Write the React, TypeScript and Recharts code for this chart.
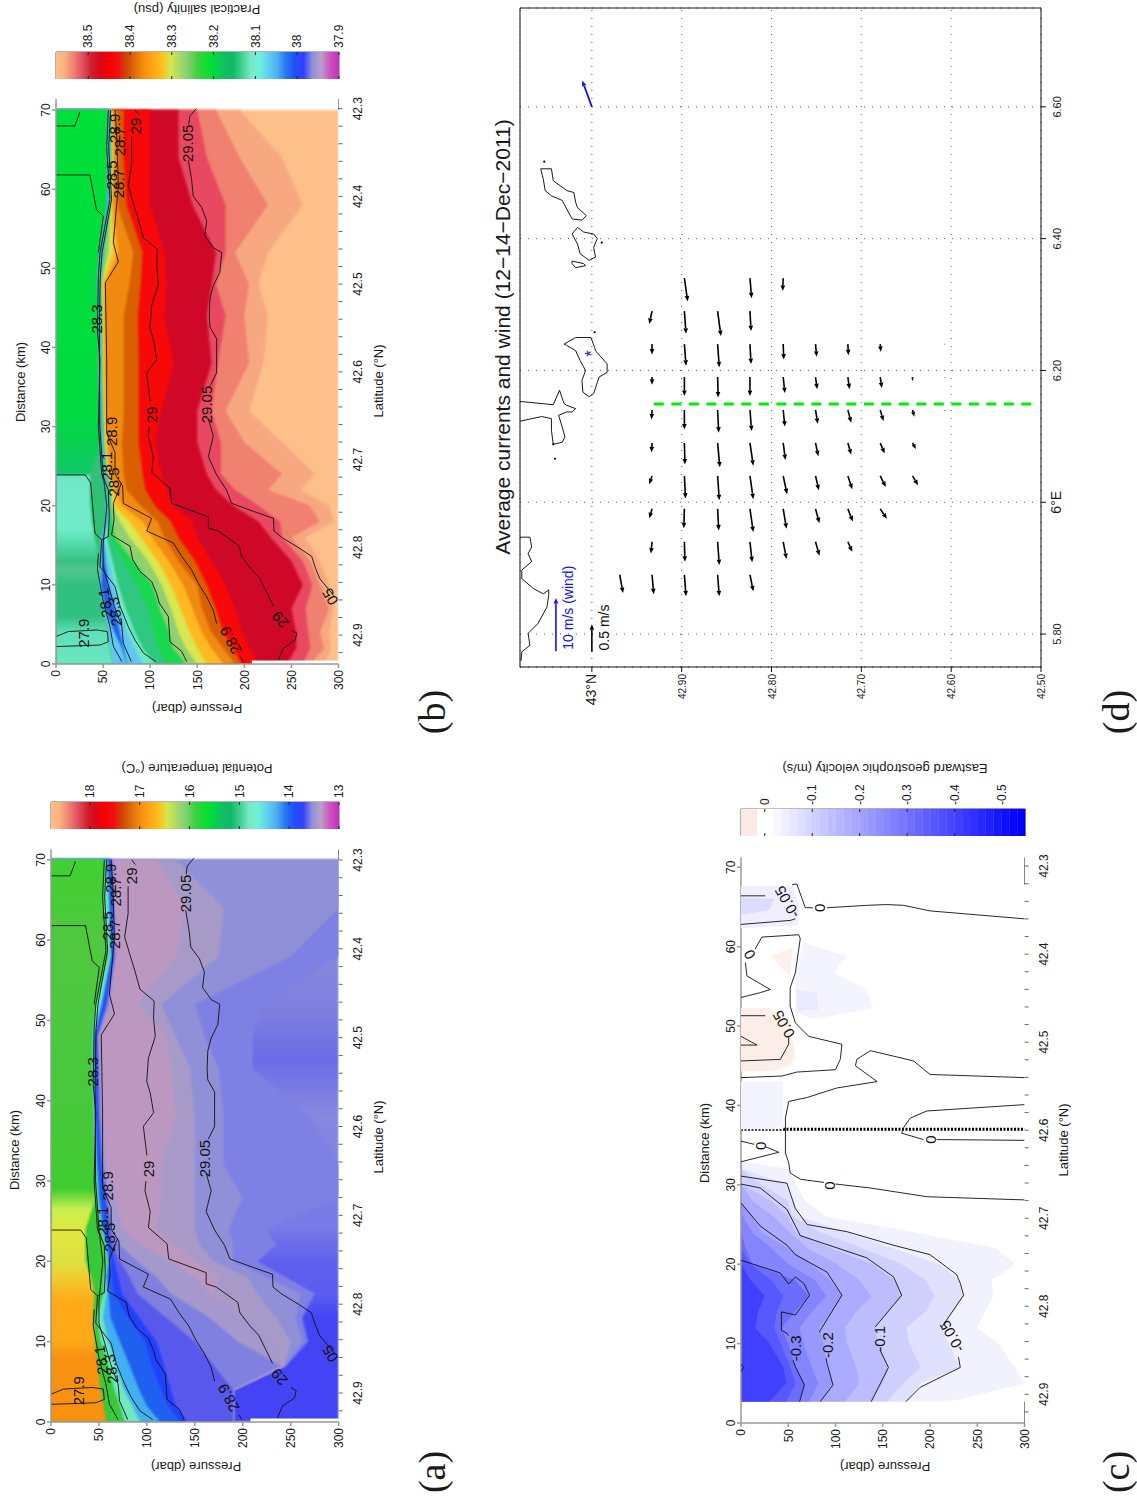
import {
  Area,
  Bar,
  BarChart,
  CartesianGrid,
  ComposedChart,
  ReferenceArea,
  ReferenceLine,
  Scatter,
  XAxis,
  YAxis,
} from 'recharts';

type Pair = [number, number];

const sans = '"Liberation Sans", Arial, sans-serif';
const ink = '#1a1a1a';

// hydrographic stations, km along the section
const stations = [0, 2, 4, 7, 10, 13, 16, 18, 20, 22, 24, 28, 32, 38, 44, 48, 52, 58, 64, 70];

// salinity bands: pressure of the bottom of each band at every station
const salTop = [60, 57, 55, 50, 46, 47, 41, 38, 36, 36, 36, 47, 45, 44, 44, 43, 45, 53, 54, 54];
const salDarkGreen = [60, 57, 55, 50, 46, 47, 48, 53, 54, 54, 50, 47, 46, 45, 45, 44, 46, 54, 55, 55];
const salSkyA = [75, 70, 62, 52, 48, 49, 49, 54, 55, 55, 51, 48, 47, 46, 46, 45, 47, 55, 56, 56];
const salBlue = [75, 72, 68, 62, 56, 52, 50, 54.5, 55.5, 55.5, 51.5, 48.5, 47.5, 46.5, 46.5, 45.5, 48, 55.5, 56.5, 56.5];
const salSkyB = [92, 84, 76, 68, 62, 56, 51, 55, 56, 56, 52, 49, 48, 47, 47, 46, 48.5, 56, 57, 57];
const salTeal = [105, 92, 84, 74, 66, 60, 54, 56, 56.5, 56.5, 52.5, 49.5, 48.5, 47.5, 47.5, 46.5, 49, 56.5, 57.5, 57.5];
const salSeaGreen = [118, 108, 104, 98, 86, 72, 57, 57, 57, 57, 53, 50, 49, 48, 48, 47, 50, 57, 58, 57.8];
const salGreen = [138, 124, 120, 110, 102, 82, 62, 60, 58, 57.5, 53.5, 50.5, 49.5, 48.5, 48.5, 47.5, 51, 57.5, 58.5, 58];
const salLime = [150, 138, 130, 122, 112, 98, 78, 68, 60, 58, 54, 51, 50, 49, 49, 48, 56, 58, 59, 58.5];
const salYellow = [160, 150, 142, 132, 122, 108, 90, 78, 62, 59, 55, 52, 51, 50, 50, 49, 60, 59, 60, 59];
const salAmber = [178, 165, 155, 145, 135, 120, 102, 92, 70, 63, 58, 55, 53, 52, 52, 52, 66, 60, 61, 60];
const salOrange = [190, 178, 165, 155, 150, 130, 115, 108, 90, 75, 72, 70, 72, 72, 72, 78, 82, 65, 66, 65];
const salDarkOrange = [197, 188, 178, 170, 160, 148, 130, 122, 105, 95, 92, 88, 88, 88, 87, 90, 92, 75, 72, 72];
const salRed = [215, 205, 198, 190, 180, 165, 150, 145, 125, 118, 112, 105, 112, 125, 115, 118, 115, 100, 100, 100];
const salCrimson = [245, 255, 255, 250, 262, 250, 228, 215, 188, 170, 160, 150, 150, 165, 160, 165, 170, 145, 130, 130];
const salRose = [262, 270, 268, 265, 272, 262, 240, 238, 215, 190, 175, 175, 165, 172, 180, 170, 180, 180, 160, 150];
const salSalmon = [270, 285, 280, 290, 280, 270, 250, 280, 270, 225, 240, 200, 180, 205, 200, 205, 190, 225, 195, 170];
const salLightSalmon = [285, 292, 290, 295, 290, 280, 265, 295, 290, 260, 275, 240, 205, 220, 225, 215, 225, 262, 240, 195];
const bottomEdge = stations.map(() => 300);

// temperature bands
const tempTop = [58, 55, 52, 49, 46, 44, 45, 42, 36, 36, 36, 47, 45, 43, 42, 42, 45, 58, 54, 56];
const tempGreen = [77, 72, 66, 60, 52, 48, 55, 55, 58, 56, 52, 48, 46, 44, 43, 43, 47, 60, 55, 57];
const tempTeal = [93, 85, 76, 68, 60, 54, 58, 57, 59, 57, 53, 49, 47, 45, 44, 44, 52, 62, 60, 58];
const tempSky = [114, 100, 92, 82, 72, 62, 60, 58, 60, 58, 54, 50, 48, 46, 45, 45, 53, 62.5, 61, 59];
const tempBlue = [135, 122, 115, 105, 98, 80, 66, 64, 63, 60, 58, 54, 50, 48, 47, 46, 56, 64, 63, 61];
const tempDeepBlue = [142, 130, 125, 118, 110, 92, 74, 70, 66, 62, 60, 56, 52, 49, 48, 47, 57, 65, 64, 62];
const tempIndigo = [190, 190, 190, 170, 150, 120, 90, 82, 72, 64, 62, 57, 53, 50, 49, 48, 58, 66, 65, 63];
const tempViolet = [190, 190, 190, 240, 195, 165, 125, 110, 90, 72, 64, 60, 55, 52, 50, 49, 60, 67, 66, 64];
const tempLavender = [190, 190, 190, 242, 235, 210, 165, 150, 125, 95, 75, 66, 58, 54, 52, 52, 62, 68, 67, 65];
const tempPlum = [190, 190, 190, 242, 235, 210, 170, 175, 150, 130, 110, 115, 115, 130, 125, 120, 90, 130, 140, 110];
const tempLavenderB = [190, 190, 190, 243, 250, 235, 215, 205, 170, 155, 150, 150, 150, 150, 145, 130, 115, 175, 180, 130];
const tempMid = [190, 190, 190, 244, 262, 255, 260, 225, 190, 190, 185, 200, 180, 180, 175, 160, 150, 250, 300, 300];
const tempVioletB = [190, 190, 190, 245, 268, 262, 275, 245, 215, 235, 225, 300, 300, 270, 210, 210, 220, 300, 300, 300];

const salBands = [salTop, salDarkGreen, salSkyA, salBlue, salSkyB, salTeal, salSeaGreen, salGreen, salLime, salYellow, salAmber, salOrange, salDarkOrange, salRed, salCrimson, salRose, salSalmon, salLightSalmon, bottomEdge];
const salColors = ['url(#salTopFill)', '#30c078', '#60c8f0', '#2060f0', '#60c8f0', '#70e8c8', '#30c880', '#18d850', '#90d070', '#d8e850', '#ffb820', '#f08a10', '#d86000', '#f80808', '#d00828', '#e84860', '#f08070', '#f8a880', '#fdc08a'];
const tempBands = [tempTop, tempGreen, tempTeal, tempSky, tempBlue, tempDeepBlue, tempIndigo, tempViolet, tempLavender, tempPlum, tempLavenderB, tempMid, tempVioletB, bottomEdge];
const tempColors = ['url(#tempTopFill)', '#38c838', '#70e8c0', '#40b0f0', '#2060f0', '#2040ff', '#5858ec', '#8080e0', '#a498cc', '#bc98c0', '#a89ac8', '#9090d8', '#7f80e4', 'url(#tempDeepFill)'];

// near-surface colour changes along the section
const salTopStops = [0, 4, 6, 10, 12, 13, 15, 17, 23.8, 24, 28, 32, 70];
const salTopColors = ['#68e8c0', '#60e0b8', '#30c080', '#30c080', '#50c890', '#38c080', '#50d8a8', '#70ecc8', '#70e8c8', '#10c868', '#08d050', '#00dc40', '#00e038'];
const tempTopStops = [0, 8, 10, 15, 18, 20, 24, 26.5, 29, 40, 60, 70];
const tempTopColors = ['#f89010', '#f89010', '#ffa818', '#ffaa18', '#f0cc30', '#e0e040', '#e0e840', '#c8f050', '#40cc30', '#48c83c', '#50c840', '#40d030'];
const tempDeepStops = [0, 13, 16, 20, 24, 38, 45, 52, 70];
const tempDeepColors = ['#4444f6', '#4444f6', '#5c5cf0', '#6060ee', '#7878e8', '#8888e0', '#6c6ce8', '#8080e0', '#9896d4'];

// density contours shared by panels a and b: [distance, pressure], split where a label sits
const iso2905a: Pair[] = [[8.5, 296], [10.8, 280], [12.3, 275], [13.6, 271.5], [14.6, 259], [15.9, 241], [16.8, 231.5], [18.4, 231], [19.3, 209.5], [20.3, 186.5], [22, 181], [23.9, 170.6], [26.2, 161.8], [28.8, 167], [30.9, 162]];
const iso2905b: Pair[] = [[35.2, 164], [36.8, 170.6], [40.2, 170.6], [41.1, 170.6], [42.6, 163.5], [44, 162.8], [46.2, 163.5], [47.8, 167], [49.5, 174], [52, 176], [52.6, 167], [54.1, 158], [56, 160], [57.7, 154.7], [59.1, 145.8], [61.2, 144], [63.7, 140.5]];
const iso2905c: Pair[] = [[68.2, 141], [69.2, 142], [70.2, 149]];
const iso2900a: Pair[] = [[0.5, 236], [2, 241.5], [3, 254], [3.9, 255.6], [4.3, 250]];
const iso2900b: Pair[] = [[7.3, 231], [10.8, 216.6], [11.9, 207.8], [13.6, 197], [14.9, 194.7], [16.8, 172.4], [17.2, 161.8], [18.6, 161.8], [20.3, 122.8], [22.2, 121], [24.2, 101.6], [26.2, 103.4], [28.8, 98], [30, 99]];
const iso2900c: Pair[] = [[33.2, 100], [36.8, 96.3], [38.5, 107], [41, 103.4], [42.4, 99.8], [45.3, 101.6], [48, 108.7], [50.3, 107], [52.4, 107.6], [53.9, 92.7], [56.2, 87.4], [58.3, 82], [60.4, 76.8], [63.3, 80.4], [66.7, 80.4]];
const iso2900d: Pair[] = [[69.4, 88], [70, 84]];
const iso2890a: Pair[] = [[0.3, 199], [0.9, 196]];
const iso2890b: Pair[] = [[5.1, 170.6], [6.8, 167], [8.5, 160], [10.2, 151], [11.9, 144], [13.6, 133.5], [15.3, 124.6], [16.8, 96.3], [18.4, 101.6], [20.3, 71.5], [22.5, 70.8], [24, 62.7], [26.7, 62.7], [29.2, 53.8], [32.6, 53.8], [38.5, 53.8], [48.2, 52.4], [50.8, 66.2], [53.3, 60.9], [60.4, 66.2], [67, 64.4], [70, 62.7]];
const iso2880: Pair[] = [[0.3, 138.8], [1.6, 133.5], [2.8, 121], [6, 119.3], [7.7, 109.7], [8.9, 106.9], [10.4, 101.6], [11.7, 89.2], [13.2, 81.4], [14.9, 78.6], [16.3, 59], [18.2, 61.6], [20.3, 60.9], [22.9, 69.7]];
const iso2860: Pair[] = [[0.3, 106], [1.4, 92.7], [3, 84], [4.7, 76.8], [7.3, 68], [9.8, 62.7], [12.3, 46.7], [15.7, 48.5], [16.1, 55.6], [18.6, 56.6], [22, 55.6], [24, 48.5], [30, 45], [38.5, 46.7], [42, 44], [49, 45], [52, 46.7], [58.7, 57.3], [65.4, 53.8], [70, 55.6]];
const iso2840: Pair[] = [[0.3, 80], [2.6, 71.5], [4.7, 70], [7.3, 62], [9.8, 56], [12.3, 50], [15, 50], [20, 54], [24, 50], [30, 46.5], [42, 46], [49, 47], [52, 49], [58.7, 59], [65.4, 56], [70, 58]];
const iso2820: Pair[] = [[0.3, 70], [2.2, 61], [4.7, 57.3], [8, 50], [12, 44], [14, 45]];
const iso2800: Pair[] = [[68, 0.7], [68, 20], [69.8, 25.5]];
const iso2800b: Pair[] = [[61.8, 0.7], [61.8, 36], [57.4, 43], [56.6, 50.3], [52, 45]];
const iso2800c: Pair[] = [[23.9, 0.7], [23.9, 31], [22.9, 36.8], [16.5, 41.4], [15.7, 48.5]];
const iso2790: Pair[] = [[2.2, 0.7], [2.4, 46.7], [2.8, 55.6], [4.1, 54.5], [4.3, 43], [4.1, 13], [3.5, 0.7]];
const densityLines = [iso2905a, iso2905b, iso2905c, iso2900a, iso2900b, iso2900c, iso2900d, iso2890a, iso2890b, iso2880, iso2860, iso2840, iso2820, iso2800, iso2800b, iso2800c, iso2790];

const densityLabelText = ['27.9', '28.9', '29', '05', '29', '29.05', '28.9', '28.1', '28.5', '28.1', '28.3', '28.3', '28.9', '28.7', '28.5', '28.7', '29', '29.05'];
const densityLabelD = [3.9, 3, 5.6, 8.5, 31.5, 32.8, 29.4, 25, 23, 7.7, 6.6, 43.6, 67.7, 66, 61.8, 60.7, 68, 65.8];
const densityLabelP = [29, 185, 238, 291, 101.6, 160, 59, 54, 61, 52, 62.6, 43, 62, 67, 59, 66, 84, 140];
const densityLabelAngle = [0, -28, -40, -30, 0, 0, 0, 0, 0, -8, -8, 0, 0, 0, 0, 0, 0, 0];

// geostrophic velocity: bottom of each band, stations along the section
const velStations = [2.7, 5, 7, 10, 12, 14, 16, 18, 20, 22, 24, 26, 28, 30, 32, 33];
const vel40 = [30, 48, 45, 30, 15, 18, 25, 10, 0, 0, 0, 0, 0, 0, 0, 0];
const vel35 = [48, 58, 52, 42, 35, 38, 45, 32, 10, 0, 0, 0, 0, 0, 0, 0];
const vel30 = [62, 67, 58, 50, 43, 57, 72, 57, 12, 5, 0, 0, 0, 0, 0, 0];
const vel25 = [72, 82, 75, 66, 62, 75, 90, 78, 50, 32, 12, 2, 0, 0, 0, 0];
const vel20 = [84, 97, 91, 87, 83, 95, 107, 94, 74, 50, 22, 11, 0, 0, 0, 0];
const vel15 = [110, 125, 122, 112, 110, 122, 138, 125, 102, 70, 52, 34, 12, 0, 0, 0];
const vel10 = [138, 150, 156, 145, 142, 155, 170, 162, 140, 95, 58, 50, 32, 1, 0, 0];
const vel075 = [155, 172, 190, 178, 175, 195, 205, 195, 170, 128, 85, 54, 50, 22, 0, 0];
const vel05 = [175, 190, 232, 220, 212, 225, 235, 230, 210, 161, 112, 62, 54, 48, 2, 0];
const vel025 = [221, 300, 290, 272, 250, 258, 267, 265, 290, 270, 185, 90, 68, 58, 50, 0];
const velBands = [vel40, vel35, vel30, vel25, vel20, vel15, vel10, vel075, vel05, vel025];
const velColors = ['#4040ff', '#5858ff', '#6c6cff', '#8484ff', '#9898ff', '#aaaaff', '#bcbcff', '#d0d0ff', '#e0e0ff', '#f2f2ff'];

// weak patches of the velocity field
const pinkPatch: Pair[] = [[52.3, 0], [52.3, 30], [50.5, 52], [48, 55], [46, 58], [45, 50], [44.3, 35], [44.3, 0]];
const pinkSliver: Pair[] = [[59.9, 55], [56.2, 52], [58.8, 31]];
const paleBlueA: Pair[] = [[60.5, 66], [58.8, 112], [56.7, 98], [54.6, 133], [52.3, 140], [50.8, 77], [51.7, 57.5], [56.3, 57.5]];
const paleBlueB: Pair[] = [[54.6, 59], [54.2, 80], [52.1, 82], [51.9, 59]];
const eastBlue: Pair[] = [[67.6, 0], [67.6, 55], [65, 62], [62.7, 60], [62.3, 0]];
const eastBlueCore: Pair[] = [[66.2, 0], [66, 35], [64.6, 30], [64, 0]];
const midBlue: Pair[] = [[43, 0], [43, 44], [37, 45], [37, 0]];
const velPatches = [midBlue, pinkPatch, pinkSliver, paleBlueA, paleBlueB, eastBlue, eastBlueCore];
const velPatchColors = ['#f4f4ff', '#fdeeea', '#fdf1ee', '#f4f4ff', '#eaeaff', '#eeeeff', '#dcdcff'];

// velocity contours, split where a label sits
const velM30a: Pair[] = [[2.7, 62], [4.8, 67], [7.1, 57.5], [7.9, 55]];
const velM30b: Pair[] = [[11, 50], [11.3, 48.6], [11.7, 42.7], [14, 42.7], [13.6, 57.5], [16.1, 72.6], [17.6, 66.3], [18.4, 57.5], [17.5, 50.4], [18.9, 41.6], [20.5, 0]];
const velM30c: Pair[] = [[7.4, 0], [7, 2.8], [6.5, 0]];
const velM20a: Pair[] = [[2.7, 83.9], [4.8, 97.3], [7.5, 91], [8.2, 90]];
const velM20b: Pair[] = [[11.4, 83.5], [11.5, 83], [16.1, 106.8], [19, 91], [21.2, 57.5], [22.4, 48.6], [24.8, 20.4], [27.7, 0]];
const velM10a: Pair[] = [[2.7, 137.8], [7, 156], [9.2, 147]];
const velM10b: Pair[] = [[12.1, 142], [16.1, 170], [18.4, 161.4], [20.8, 133], [23.6, 62.7], [26.9, 48.6], [29.6, 20.4], [30.1, 0]];
const velM05a: Pair[] = [[2.7, 174.5], [4.5, 189.6], [7, 232], [8.3, 230]];
const velM05d: Pair[] = [[12.1, 212.5], [16.1, 235.5], [17.6, 232], [18.7, 228], [21.2, 200], [22.4, 161], [24.1, 112], [25, 70], [27, 57.5], [30.2, 48.6], [31.1, 0]];
const velM05b: Pair[] = [[62.8, 0], [63.3, 52], [63.5, 57.5]];
const velM05c: Pair[] = [[66.4, 0], [66.4, 25.7]];
const velZeroA1: Pair[] = [[63.5, 300], [64.5, 200], [65.2, 172], [65.3, 154], [65.2, 133], [64.9, 91]];
const velZeroA2: Pair[] = [[64.9, 76], [64.9, 68], [67.9, 59], [67.8, 54]];
const velZeroB1: Pair[] = [[53.6, 0], [54.2, 20.4], [54.6, 31], [56.3, 6.3], [58, 4.6]];
const velZeroB2: Pair[] = [[59.7, 15], [61.2, 22], [61.5, 61], [61, 62.7], [56.7, 57.5], [54.8, 52], [52.5, 52], [50.4, 57.5], [48.7, 71.6], [47.7, 106.8], [45.8, 105], [44.5, 100], [44.2, 59], [43.7, 43.4], [43.5, 0]];
const velPosA: Pair[] = [[51.3, 0], [51.3, 25.7]];
const velPosB: Pair[] = [[45.6, 0], [45.8, 41.6], [47.7, 50.4], [48.6, 50.4]];
const velPosC: Pair[] = [[48.7, 0], [47.6, 17], [47.6, 0]];
const velZeroC1: Pair[] = [[43.5, 300], [43.9, 200], [45.6, 182.6], [46.9, 136.8], [45.8, 122.6], [45, 121], [43, 144], [42.2, 101.5], [41, 70], [40.5, 50.4], [38.4, 47], [34, 47], [32.8, 50.4], [31.5, 52], [30.7, 62.7], [30.3, 88]];
const velZeroC2: Pair[] = [[30.1, 100], [29.6, 136.8], [28.5, 196.7], [28.1, 300]];
const velZeroD1: Pair[] = [[35.5, 0], [35.1, 14]];
const velZeroD2: Pair[] = [[34.8, 26], [34.1, 40], [32.9, 0]];
const velZeroE1: Pair[] = [[35.6, 300], [35.7, 207]];
const velZeroE2: Pair[] = [[35.7, 193], [36.5, 170], [37.2, 172], [38.4, 179], [39.3, 196.7], [40.1, 300]];
const velLines = [velM30a, velM30b, velM30c, velM20a, velM20b, velM10a, velM10b, velM05a, velM05d, velM05b, velM05c, velZeroA1, velZeroA2, velZeroB1, velZeroB2, velPosA, velPosB, velPosC, velZeroC1, velZeroC2, velZeroD1, velZeroD2, velZeroE1, velZeroE2];

const velLabelText = ['-0.3', '-0.2', '-0.1', '-0.05', '0', '0', '0', '0', '0', '-0.05', '0.05'];
const velLabelD = [9.4, 9.8, 10.6, 10.9, 29.9, 35.7, 34.9, 64.9, 59, 65.6, 50.2];
const velLabelP = [57.5, 91, 147, 223, 93.8, 200, 20.4, 83, 9, 48.6, 45];
const velLabelAngle = [0, 0, 0, -30, 0, 0, 0, 0, -30, -30, -30];

const pressureTicks = [0, 50, 100, 150, 200, 250, 300];
const distanceTicks = [0, 10, 20, 30, 40, 50, 60, 70];
const latTicks = [42.3, 42.32, 42.34, 42.36, 42.38, 42.4, 42.42, 42.44, 42.46, 42.48, 42.5, 42.52, 42.54, 42.56, 42.58, 42.6, 42.62, 42.64, 42.66, 42.68, 42.7, 42.72, 42.74, 42.76, 42.78, 42.8, 42.82, 42.84, 42.86, 42.88, 42.9, 42.92];

// colour bars, listed from the low end to the high end
const rainbow = ['#c030c0', '#d050c0', '#b8a0c8', '#9090d8', '#3040ff', '#2050f8', '#2878f0', '#50b0f0', '#60d0f0', '#70f0d8', '#78e8c0', '#40d090', '#10b868', '#10c060', '#00d840', '#10e030', '#40d040', '#80d070', '#a8d868', '#d0e850', '#ffc020', '#ffa818', '#f89010', '#e07008', '#d04808', '#f01010', '#f80000', '#d80818', '#d02030', '#e05060', '#f08070', '#fab080', '#fdc08a'];
const velPalette = ['#0000ff', '#0707ff', '#0f0fff', '#1717ff', '#1f1fff', '#2727ff', '#2f2fff', '#3737ff', '#3f3fff', '#4747ff', '#4f4fff', '#5757ff', '#5f5fff', '#6767ff', '#6f6fff', '#7777ff', '#7f7fff', '#8787ff', '#8f8fff', '#9797ff', '#9f9fff', '#a7a7ff', '#afafff', '#b7b7ff', '#bfbfff', '#c7c7ff', '#cfcfff', '#d7d7ff', '#dfdfff', '#e7e7ff', '#efefff', '#f7f7ff', '#ffffff', '#ffffff', '#fdeae6', '#fdeae6'];
const salTicks = [37.9, 38, 38.1, 38.2, 38.3, 38.4, 38.5];
const tempTicks = [13, 14, 15, 16, 17, 18];
const velTicks = [-0.5, -0.4, -0.3, -0.2, -0.1, 0];

// map: current vectors, one line per longitude column
const arrowLon = [
  5.89, 5.89, 5.89, 5.89, 5.89,
  5.94, 5.94, 5.94, 5.94, 5.94, 5.94, 5.94,
  5.99, 5.99, 5.99, 5.99, 5.99, 5.99, 5.99, 5.99,
  6.04, 6.04, 6.04, 6.04, 6.04, 6.04, 6.04, 6.04, 6.04,
  6.09, 6.09, 6.09, 6.09, 6.09, 6.09, 6.09, 6.09, 6.09,
  6.14, 6.14, 6.14, 6.14, 6.14, 6.14, 6.14, 6.14, 6.14, 6.14,
  6.19, 6.19, 6.19, 6.19, 6.19, 6.19, 6.19, 6.19, 6.19, 6.19,
  6.24, 6.24, 6.24, 6.24, 6.24, 6.24, 6.24, 6.24, 6.24,
  6.29, 6.29, 6.29, 6.29,
  6.34, 6.34, 6.34,
];
const arrowLat = [
  42.969, 42.933, 42.897, 42.86, 42.824,
  42.933, 42.897, 42.86, 42.824, 42.787, 42.751, 42.715,
  42.933, 42.897, 42.86, 42.824, 42.787, 42.751, 42.715, 42.679,
  42.933, 42.897, 42.86, 42.824, 42.787, 42.751, 42.715, 42.679, 42.643,
  42.933, 42.897, 42.86, 42.824, 42.787, 42.751, 42.715, 42.679, 42.643,
  42.933, 42.897, 42.86, 42.824, 42.787, 42.751, 42.715, 42.679, 42.643, 42.607,
  42.933, 42.897, 42.86, 42.824, 42.787, 42.751, 42.715, 42.679, 42.643, 42.607,
  42.933, 42.897, 42.86, 42.824, 42.787, 42.751, 42.715, 42.679, 42.607,
  42.933, 42.897, 42.86, 42.824,
  42.897, 42.824, 42.787,
];
const arrowU = [
  -0.33, -0.35, -0.39, -0.39, -0.3,
  -0.21, -0.36, -0.42, -0.37, -0.31, -0.25, -0.18,
  -0.17, -0.35, -0.39, -0.42, -0.36, -0.26, -0.23, -0.18,
  -0.15, -0.41, -0.44, -0.42, -0.33, -0.26, -0.24, -0.2, -0.17,
  -0.17, -0.39, -0.44, -0.41, -0.31, -0.24, -0.21, -0.19, -0.11,
  -0.17, -0.35, -0.41, -0.38, -0.3, -0.25, -0.23, -0.2, -0.12, -0.02,
  -0.14, -0.34, -0.37, -0.34, -0.29, -0.22, -0.22, -0.2, -0.07, -0.01,
  -0.19, -0.39, -0.42, -0.36, -0.28, -0.23, -0.2, -0.14, -0.01,
  -0.23, -0.41, -0.45, -0.36,
  -0.42, -0.36, -0.23,
];
const arrowV = [
  -0.06, -0.03, -0.03, -0.03, -0.06,
  0.02, -0.01, -0.03, -0.04, -0.06, -0.07, -0.08,
  0.05, 0.01, -0.02, -0.06, -0.06, -0.07, -0.09, -0.12,
  0.05, -0.02, -0.03, -0.06, -0.07, -0.06, -0.08, -0.1, -0.1,
  0.01, -0.01, -0.04, -0.06, -0.04, -0.05, -0.06, -0.08, -0.06,
  0.01, 0, -0.02, -0.03, -0.03, -0.04, -0.06, -0.06, -0.03, -0.01,
  0, 0, -0.01, 0, -0.03, -0.03, -0.03, -0.03, 0, 0,
  0, -0.03, -0.03, -0.02, -0.01, -0.02, -0.01, -0.01, 0.01,
  0.05, -0.03, -0.06, -0.02,
  -0.06, -0.03, 0.01,
];

// coastline, [lon, lat]
const levant: Pair[] = [[6.506, 43.057], [6.506, 43.045], [6.488, 43.043], [6.473, 43.028], [6.47, 43.02], [6.455, 43.018], [6.447, 43.016], [6.435, 43.006], [6.428, 43.011], [6.43, 43.022], [6.445, 43.028], [6.458, 43.033], [6.465, 43.045], [6.473, 43.052], [6.49, 43.054], [6.506, 43.057]];
const portCros: Pair[] = [[6.407, 43.022], [6.417, 43.016], [6.41, 43.009], [6.407, 42.998], [6.4, 42.994], [6.387, 42.998], [6.372, 42.996], [6.367, 43.003], [6.377, 43.013], [6.392, 43.016], [6.407, 43.022]];
const bagaud: Pair[] = [[6.366, 43.022], [6.362, 43.009], [6.359, 43.007], [6.356, 43.018], [6.362, 43.022], [6.366, 43.022]];
const porquerolles: Pair[] = [[6.24, 43.031], [6.25, 43.018], [6.25, 43.001], [6.235, 42.997], [6.23, 42.996], [6.21, 42.983], [6.197, 42.983], [6.19, 42.992], [6.165, 42.998], [6.16, 43.003], [6.167, 43.01], [6.185, 43.011], [6.2, 43.007], [6.215, 43.013], [6.23, 43.018], [6.238, 43.028], [6.24, 43.031]];
const giens: Pair[] = [[6.153, 43.08], [6.148, 43.043], [6.17, 43.036], [6.15, 43.031], [6.147, 43.028], [6.142, 43.018], [6.137, 43.022], [6.137, 43.028], [6.132, 43.037], [6.114, 43.033], [6.099, 43.03], [6.091, 43.033], [6.088, 43.043], [6.109, 43.045], [6.127, 43.045], [6.13, 43.056], [6.123, 43.08]];
const sicie: Pair[] = [[5.947, 43.08], [5.947, 43.069], [5.932, 43.067], [5.922, 43.071], [5.91, 43.067], [5.897, 43.078], [5.884, 43.078], [5.869, 43.065], [5.861, 43.054], [5.867, 43.048], [5.859, 43.048], [5.841, 43.05], [5.816, 43.06], [5.801, 43.071], [5.783, 43.069], [5.773, 43.078], [5.759, 43.079]];
const coasts = [levant, portCros, bagaud, porquerolles, giens, sicie];
const isletLon = [6.517, 6.394, 6.258, 6.066, 6.088];
const isletLat = [43.053, 42.989, 42.997, 43.041, 43.043];

const lonTicks = [5.8, 6, 6.2, 6.4, 6.6];
const mapLatTicks = [42.5, 42.6, 42.7, 42.8, 42.9, 43];
const transectLon = [6.149, 6.149];
const transectLat = [42.931, 42.503];

const blockStyle = (left: number, top: number): React.CSSProperties => ({ position: 'absolute', left, top });

const noMark = () => null;

function bandRows(xs: number[], bands: number[][]) {
  return xs.map((d, i) => {
    const row: Record<string, number> = { d };
    bands.forEach((band, b) => {
      row[`b${b}`] = band[i];
    });
    return row;
  });
}

function sectionLine(points: Pair[]) {
  return points.map(([d, p]) => ({ d, p }));
}

function labelMark(props: any) {
  const { cx, cy, payload } = props;
  return (
    <text
      x={cx}
      y={cy}
      textAnchor="middle"
      dominantBaseline="central"
      fontSize={payload.size ?? 15}
      fontFamily={sans}
      fill={payload.color ?? '#111'}
      transform={payload.angle ? `rotate(${payload.angle} ${cx} ${cy})` : undefined}
    >
      {payload.text}
    </text>
  );
}

function Gradient({ id, stops, colors }: { id: string; stops: number[]; colors: string[] }) {
  return (
    <linearGradient id={id} x1="0" y1="0" x2="1" y2="0">
      {stops.map((d, i) => (
        <stop key={d} offset={d / 70} stopColor={colors[i]} />
      ))}
    </linearGradient>
  );
}

interface SectionProps {
  x0: number;
  x1: number;
  y0: number;
  y1: number;
  maxDist: number;
  lat0: number;
  lat1: number;
  xs: number[];
  bands: number[][];
  colors: string[];
  lines: Pair[][];
  labels: { d: number; p: number; text: string; angle: number }[];
  patches?: Pair[][];
  patchColors?: string[];
  axisStubs: Pair[][];
  defs?: React.ReactNode;
  extra?: React.ReactNode;
  soft?: boolean;
}

function SectionPlot({ x0, x1, y0, y1, maxDist, lat0, lat1, xs, bands, colors, lines, labels, patches, patchColors, axisStubs, defs, extra, soft }: SectionProps) {
  const rows = bandRows(xs, bands);
  const yAxisW = 40;
  const xAxisH = 32;
  const paintOrder = bands.map((_, b) => bands.length - 1 - b);
  return (
    <div style={blockStyle(x0 - yAxisW, y0 - xAxisH)}>
      <ComposedChart
        width={x1 - x0 + yAxisW + 10}
        height={y1 - y0 + xAxisH * 2}
        data={rows}
        margin={{ top: 0, right: 10, bottom: 0, left: 0 }}
      >
        <defs>{defs}</defs>
        <XAxis
          xAxisId="dist"
          dataKey="d"
          type="number"
          orientation="top"
          height={xAxisH}
          domain={[0, maxDist]}
          allowDataOverflow
          ticks={distanceTicks}
          interval={0}
          tickSize={4}
          stroke="#999"
          strokeWidth={1.5}
          tick={{ fontSize: 12, fontFamily: sans, fill: ink }}
        />
        <XAxis
          xAxisId="lat"
          dataKey="lat"
          type="number"
          orientation="bottom"
          height={xAxisH}
          reversed
          domain={[lat1, lat0]}
          allowDataOverflow
          ticks={latTicks}
          interval={0}
          tickSize={4}
          tickMargin={11}
          axisLine={false}
          tickFormatter={(v: number) => (Math.round(v * 100) % 10 === 0 ? v.toFixed(1) : '')}
          tick={{ fontSize: 12, fontFamily: sans, fill: ink }}
        />
        <YAxis
          yAxisId="pres"
          dataKey="p"
          type="number"
          width={yAxisW}
          reversed
          domain={[0, 300]}
          allowDataOverflow
          ticks={pressureTicks}
          interval={0}
          tickSize={4}
          stroke="#999"
          strokeWidth={1.5}
          tick={{ fontSize: 12, fontFamily: sans, fill: ink }}
        />
        {paintOrder.map((b) => (
          <Area
            key={b}
            xAxisId="dist"
            yAxisId="pres"
            dataKey={`b${b}`}
            type="linear"
            fill={colors[b]}
            fillOpacity={1}
            stroke="none"
            dot={false}
            activeDot={false}
            style={soft ? { filter: 'blur(1.3px)' } : undefined}
            isAnimationActive={false}
          />
        ))}
        {patches?.map((pts, i) => (
          <Scatter
            key={`patch${i}`}
            xAxisId="dist"
            yAxisId="pres"
            data={sectionLine([...pts, pts[0]])}
            line={{ stroke: 'none', fill: patchColors?.[i] }}
            shape={noMark}
            isAnimationActive={false}
          />
        ))}
        {extra}
        {lines.map((pts, i) => (
          <Scatter
            key={`iso${i}`}
            xAxisId="dist"
            yAxisId="pres"
            data={sectionLine(pts)}
            line={{ stroke: '#111', strokeWidth: 0.9 }}
            shape={noMark}
            isAnimationActive={false}
          />
        ))}
        {axisStubs.map((pts, i) => (
          <Scatter
            key={`stub${i}`}
            xAxisId="dist"
            yAxisId="pres"
            data={sectionLine(pts)}
            line={{ stroke: '#222', strokeWidth: 1 }}
            shape={noMark}
            isAnimationActive={false}
          />
        ))}
        <Scatter xAxisId="dist" yAxisId="pres" data={labels} shape={labelMark} isAnimationActive={false} />
        {/* keeps the latitude axis scaled, draws nothing */}
        <Scatter
          xAxisId="lat"
          yAxisId="pres"
          data={[{ lat: lat0, p: 0 }, { lat: lat1, p: 0 }]}
          shape={noMark}
          isAnimationActive={false}
        />
      </ComposedChart>
    </div>
  );
}

interface ColorBarProps {
  left: number;
  top: number;
  width: number;
  height: number;
  palette: string[];
  min: number;
  max: number;
  ticks: number[];
  id: string;
  smooth?: boolean;
  format?: (v: number) => string;
}

function ColorBar({ left, top, width, height, palette, min, max, ticks, id, smooth, format }: ColorBarProps) {
  const step = (max - min) / palette.length;
  const row: Record<string, number | string> = { name: 'bar', base: min, span: max - min };
  palette.forEach((_, i) => {
    row[`s${i}`] = step;
  });
  return (
    <div style={blockStyle(left, top - 10)}>
      <BarChart
        width={width + 44}
        height={height + 20}
        data={[row]}
        margin={{ top: 10, right: 0, bottom: 10, left: 0 }}
        barCategoryGap={0}
      >
        <defs>
          <linearGradient id={id} x1="0" y1="1" x2="0" y2="0">
            {palette.map((color, i) => (
              <stop key={i} offset={i / (palette.length - 1)} stopColor={color} />
            ))}
          </linearGradient>
        </defs>
        <XAxis dataKey="name" hide />
        <YAxis
          type="number"
          orientation="right"
          width={44}
          domain={[min, max]}
          allowDataOverflow
          ticks={ticks}
          interval={0}
          tickSize={0}
          tickLine={false}
          tickMargin={4}
          axisLine={false}
          tickFormatter={format}
          tick={{ fontSize: 12, fontFamily: sans, fill: ink }}
        />
        <Bar dataKey="base" stackId="c" fill="none" isAnimationActive={false} />
        {smooth ? (
          <Bar dataKey="span" stackId="c" fill={`url(#${id})`} isAnimationActive={false} />
        ) : (
          palette.map((color, i) => (
            <Bar key={i} dataKey={`s${i}`} stackId="c" fill={color} stroke={color} strokeWidth={0.4} isAnimationActive={false} />
          ))
        )}
        {ticks.map((t) => (
          <ReferenceLine key={t} y={t} stroke="#222" strokeDasharray={`3 ${width - 6} 3`} />
        ))}
        <ReferenceArea y1={min} y2={max} fill="none" stroke="#666" strokeWidth={1} />
      </BarChart>
    </div>
  );
}

function arrowMark(scale: number, color: string, weight: number) {
  return function ArrowMark(props: any) {
    const { cx, cy, payload } = props;
    const dx = payload.u * scale;
    const dy = -payload.v * scale;
    const len = Math.hypot(dx, dy);
    if (len === 0) return null;
    const ux = dx / len;
    const uy = dy / len;
    const head = Math.min(5.5, len * 0.7);
    const half = head * 0.42;
    const tipX = cx + dx;
    const tipY = cy + dy;
    const backX = tipX - ux * head;
    const backY = tipY - uy * head;
    return (
      <g>
        <line x1={cx} y1={cy} x2={backX} y2={backY} stroke={color} strokeWidth={weight} />
        <polygon
          points={`${tipX},${tipY} ${backX - uy * half},${backY + ux * half} ${backX + uy * half},${backY - ux * half}`}
          fill={color}
        />
      </g>
    );
  };
}

const currentRows = arrowLon.map((lon, i) => ({ lon, lat: arrowLat[i], u: arrowU[i], v: arrowV[i] }));
const scaleCurrent = [{ lon: 5.773, lat: 43, u: 0.5, v: 0 }];
const scaleWind = [{ lon: 5.774, lat: 43.04, u: 10, v: 0 }];
const windRow = [{ lon: 6.6, lat: 43, u: 4.93, v: 1.8 }];
const mapNotes = [
  { lon: 5.81, lat: 42.987, text: '0.5 m/s', size: 14, color: '#111' },
  { lon: 5.84, lat: 43.027, text: '10 m/s (wind)', size: 14, color: '#1010ff' },
  { lon: 6.226, lat: 43, text: '*', size: 17, color: '#1010ff' },
];

function islet(props: any) {
  return <circle cx={props.cx} cy={props.cy} r={1.1} fill="#000" />;
}

function lonTick(props: any) {
  const { x, y, payload } = props;
  const big = payload.value === 6;
  return (
    <text x={x} y={y + 13} textAnchor="middle" fontSize={big ? 14 : 11} fontFamily={sans} fill={ink}>
      {big ? '6°E' : payload.value.toFixed(2)}
    </text>
  );
}

function latTick(props: any) {
  const { x, y, payload } = props;
  const big = payload.value === 43;
  return (
    <text x={x} y={y + 4} textAnchor="end" fontSize={big ? 14 : 10} fontFamily={sans} fill={ink}>
      {big ? '43°N' : payload.value.toFixed(2)}
    </text>
  );
}

function MapPlot() {
  const x0 = 835.7;
  const x1 = 1494.7;
  const y0 = 520;
  const y1 = 1041;
  const lonDomain = [5.75, 6.75];
  const latDomain = [42.5, 43.08];
  return (
    <div style={blockStyle(x0 - 50, y0 - 10)}>
      <ComposedChart
        width={x1 - x0 + 60}
        height={y1 - y0 + 40}
        margin={{ top: 0, right: 0, bottom: 0, left: 0 }}
      >
        <XAxis
          xAxisId="main"
          dataKey="lon"
          type="number"
          orientation="bottom"
          height={30}
          domain={lonDomain}
          allowDataOverflow
          ticks={lonTicks}
          interval={0}
          tickSize={5}
          stroke="#111"
          tick={lonTick}
        />
        <XAxis
          xAxisId="upper"
          dataKey="lon"
          type="number"
          orientation="top"
          height={10}
          domain={lonDomain}
          allowDataOverflow
          ticks={lonTicks}
          interval={0}
          tickSize={5}
          stroke="#111"
          tick={false}
        />
        <YAxis
          yAxisId="main"
          dataKey="lat"
          type="number"
          width={50}
          domain={latDomain}
          allowDataOverflow
          ticks={mapLatTicks}
          interval={0}
          tickSize={5}
          stroke="#111"
          tick={latTick}
        />
        <YAxis
          yAxisId="side"
          dataKey="lat"
          type="number"
          orientation="right"
          width={10}
          domain={latDomain}
          allowDataOverflow
          ticks={mapLatTicks}
          interval={0}
          tickSize={5}
          stroke="#111"
          tick={false}
        />
        <CartesianGrid
          xAxisId="main"
          yAxisId="main"
          strokeDasharray="1 7"
          stroke="#555"
          strokeWidth={1}
        />
        {coasts.map((pts, i) => (
          <Scatter
            key={i}
            xAxisId="main"
            yAxisId="main"
            data={pts.map(([lon, lat]) => ({ lon, lat }))}
            line={{ stroke: '#000', strokeWidth: 0.9 }}
            shape={noMark}
            isAnimationActive={false}
          />
        ))}
        <Scatter
          xAxisId="main"
          yAxisId="main"
          data={isletLon.map((lon, i) => ({ lon, lat: isletLat[i] }))}
          shape={islet}
          isAnimationActive={false}
        />
        <Scatter
          xAxisId="main"
          yAxisId="main"
          data={transectLon.map((lon, i) => ({ lon, lat: transectLat[i] }))}
          line={{ stroke: '#00ee00', strokeWidth: 3, strokeDasharray: '10 7.5' }}
          shape={noMark}
          isAnimationActive={false}
        />
        <Scatter xAxisId="main" yAxisId="main" data={currentRows} shape={arrowMark(55.4, '#000', 1.6)} isAnimationActive={false} />
        <Scatter xAxisId="main" yAxisId="main" data={scaleCurrent} shape={arrowMark(55.4, '#000', 1.6)} isAnimationActive={false} />
        <Scatter xAxisId="main" yAxisId="main" data={scaleWind} shape={arrowMark(5.33, '#1010ff', 1.6)} isAnimationActive={false} />
        <Scatter xAxisId="main" yAxisId="main" data={windRow} shape={arrowMark(5.33, '#1010ff', 1.8)} isAnimationActive={false} />
        <Scatter xAxisId="main" yAxisId="main" data={mapNotes} shape={labelMark} isAnimationActive={false} />
        {/* keeps the outer ticks scaled, draws nothing */}
        <Scatter
          xAxisId="upper"
          yAxisId="side"
          data={[{ lon: lonDomain[0], lat: latDomain[0] }, { lon: lonDomain[1], lat: latDomain[1] }]}
          shape={noMark}
          isAnimationActive={false}
        />
      </ComposedChart>
    </div>
  );
}

function Caption({ x, y, text, size = 13, angle = 0, serif = false }: { x: number; y: number; text: string; size?: number; angle?: number; serif?: boolean }) {
  return (
    <div
      style={{
        position: 'absolute',
        left: x,
        top: y,
        transform: `translate(-50%, -50%) rotate(${angle}deg)`,
        whiteSpace: 'nowrap',
        fontSize: size,
        lineHeight: 1,
        fontFamily: serif ? '"Liberation Serif", serif' : sans,
        color: ink,
      }}
    >
      {text}
    </div>
  );
}

const densityLabels = densityLabelText.map((text, i) => ({ text, d: densityLabelD[i], p: densityLabelP[i], angle: densityLabelAngle[i] }));
const velLabels = velLabelText.map((text, i) => ({ text, d: velLabelD[i], p: velLabelP[i], angle: velLabelAngle[i] }));

const whiteCorner = <ReferenceArea xAxisId="dist" yAxisId="pres" x1={0} x2={0.45} y1={208} y2={300} fill="#fff" fillOpacity={1} stroke="none" />;

export default function App() {
  return (
    <div
      style={{
        position: 'absolute',
        left: 0,
        top: 0,
        width: 1503,
        height: 1137,
        background: '#fff',
        transformOrigin: '0 0',
        transform: 'translate(0, 1503px) rotate(-90deg)',
      }}
    >
      <SectionPlot
        x0={81.3}
        x1={654}
        y0={51}
        y1={338.7}
        maxDist={71.3}
        lat0={42.9326}
        lat1={42.288}
        xs={stations}
        bands={tempBands}
        colors={tempColors}
        lines={densityLines}
        labels={densityLabels}
        axisStubs={[[[70, 300], [71.3, 300]]]}
        extra={whiteCorner}
        soft
        defs={
          <>
            <Gradient id="tempTopFill" stops={tempTopStops} colors={tempTopColors} />
            <Gradient id="tempDeepFill" stops={tempDeepStops} colors={tempDeepColors} />
          </>
        }
      />
      <ColorBar id="tempBar" smooth left={674} top={51} width={27} height={288} palette={rainbow} min={13} max={18.78} ticks={tempTicks} />
      <SectionPlot
        x0={839}
        x1={1404}
        y0={56}
        y1={338.5}
        maxDist={71.4}
        lat0={42.933}
        lat1={42.289}
        xs={stations}
        bands={salBands}
        colors={salColors}
        lines={densityLines}
        labels={densityLabels}
        axisStubs={[[[70, 300], [71.4, 300]]]}
        extra={whiteCorner}
        soft
        defs={<Gradient id="salTopFill" stops={salTopStops} colors={salTopColors} />}
      />
      <ColorBar id="salBar" smooth left={1424} top={56} width={27} height={283} palette={rainbow} min={37.9} max={38.577} ticks={salTicks} />
      <SectionPlot
        x0={80.3}
        x1={646}
        y0={740.7}
        y1={1024.3}
        maxDist={71.25}
        lat0={42.9326}
        lat1={42.29}
        xs={velStations}
        bands={velBands}
        colors={velColors}
        lines={velLines}
        labels={velLabels}
        patches={velPatches}
        patchColors={velPatchColors}
        axisStubs={[[[0, 300], [2.7, 300]], [[67.8, 300], [71.25, 300]]]}
        extra={
          <ReferenceLine
            xAxisId="dist"
            yAxisId="pres"
            x={37}
            stroke="#000"
            strokeWidth={3}
            strokeDasharray="2 1.5"
          />
        }
      />
      <ColorBar id="velBar" left={667} top={740.7} width={27} height={284.3} palette={velPalette} min={-0.549} max={0.05} ticks={velTicks} format={(v) => (v === 0 ? '0' : String(v))} />
      <MapPlot />

      <Caption x={37} y={196} text="Pressure (dbar)" angle={-90} />
      <Caption x={795} y={197} text="Pressure (dbar)" angle={-90} />
      <Caption x={37} y={885} text="Pressure (dbar)" angle={-90} />
      <Caption x={353} y={14} text="Distance (km)" />
      <Caption x={1121} y={20} text="Distance (km)" />
      <Caption x={360} y={704} text="Distance (km)" />
      <Caption x={366} y={378} text="Latitude (°N)" />
      <Caption x={1122} y={378} text="Latitude (°N)" />
      <Caption x={363} y={1063} text="Latitude (°N)" />
      <Caption x={735} y={197} text="Potential temperature (°C)" angle={-90} />
      <Caption x={1494} y={197} text="Practical salinity (psu)" angle={-90} />
      <Caption x={735} y={885} text="Eastward geostrophic velocity (m/s)" angle={-90} />
      <Caption x={1166} y={502} text="Average currents and wind (12−14−Dec−2011)" size={21} />
      <Caption x={31} y={432} text="(a)" size={38} serif />
      <Caption x={791} y={432} text="(b)" size={38} serif />
      <Caption x={31} y={1116} text="(c)" size={38} serif />
      <Caption x={791} y={1116} text="(d)" size={38} serif />
    </div>
  );
}
